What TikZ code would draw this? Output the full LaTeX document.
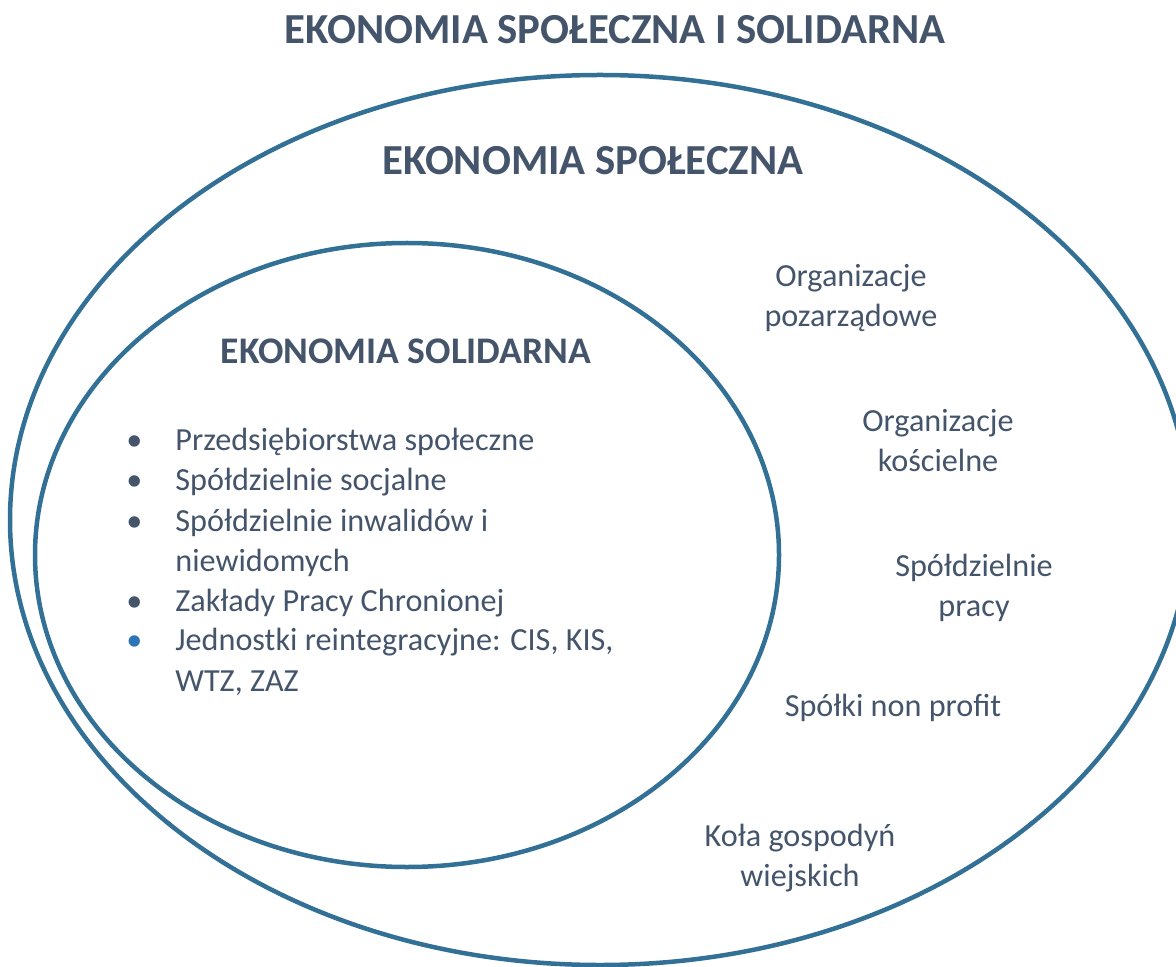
\documentclass[tikz,border=0pt]{standalone}
\usepackage{fontspec}
\setmainfont{Carlito}
\usetikzlibrary{shapes}
\definecolor{ringblue}{RGB}{50,112,150}
\definecolor{textgray}{RGB}{68,84,106}
\definecolor{dotblue}{RGB}{46,117,182}
\tikzset{
ring/.style={
	  draw=ringblue, line width=2.25pt, ellipse, inner sep=0pt},
heading/.style={
	  font=\fontsize{21.4}{26}\selectfont\bfseries, text=textgray},
entry/.style={
	  font=\fontsize{16.1}{20}\selectfont, text=textgray, align=center}
}
\newcommand{\dotmark}[1]{\makebox[0pt][c]{\textcolor{#1}{\textbullet}}}

\begin{document}
\begin{tikzpicture}[x=0.5pt, y=-0.5pt]
	\clip (0,0) rectangle (1176,967);
	\node[ring, minimum width=590pt, minimum height=445pt] (outer) at (600,520) {};
	\node[ring, minimum width=372pt, minimum height=312pt] (inner) at (407,555) {};
	\node[heading] (whole) at (615,30) {EKONOMIA SPOŁECZNA I SOLIDARNA};
	\node[heading] (social) at (593,161) {EKONOMIA SPOŁECZNA};
	\node[heading, font=\fontsize{18.8}{23}\selectfont\bfseries] (solid) at (406,351) {EKONOMIA SOLIDARNA};
	\node[entry, inner sep=0pt, anchor=base west] (list) at (134,451) {%
		\begin{tabular}[t]{@{}p{20.5pt}@{}l@{}}
			\dotmark{textgray} & Przedsiębiorstwa społeczne\\
			\dotmark{textgray} & Spółdzielnie socjalne\\
			\dotmark{textgray} & Spółdzielnie inwalidów i\\
			                   & niewidomych\\
			\dotmark{textgray} & Zakłady Pracy Chronionej\\
			\dotmark{dotblue}  & Jednostki reintegracyjne: CIS, KIS,\\
			                   & WTZ, ZAZ
		\end{tabular}};
	\node[entry] (ngo) at (851,298) {Organizacje\\pozarządowe};
	\node[entry] (church) at (938,441) {Organizacje\\kościelne};
	\node[entry] (coop) at (974,588) {Spółdzielnie\\pracy};
	\node[entry] (nonprofit) at (893,708) {Spółki non profit};
	\node[entry] (rural) at (800,858) {Koła gospodyń\\wiejskich};
\end{tikzpicture}
\end{document}
